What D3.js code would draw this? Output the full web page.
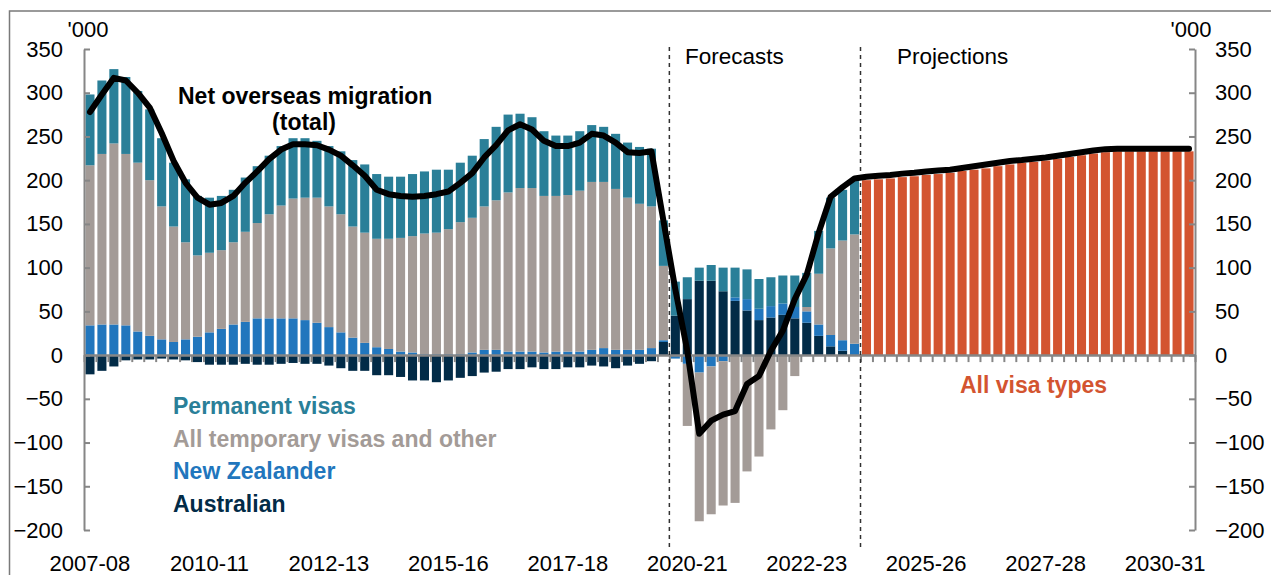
<!DOCTYPE html>
<html>
<head>
<meta charset="utf-8">
<script src="https://cdn.jsdelivr.net/npm/d3@7"></script>
<style>
  body { margin: 0; background: #fff; }
  svg text { font-family: "Liberation Sans", Arial, sans-serif; }
</style>
</head>
<body>
<div id="chart"></div>
<script>
// quarterly components, Mar-2008 .. Jun-2024 ('000 persons)
var australian = [-22,-18,-13,-6,-5,-5,-4,-5,-6,-8, -11,-11,-11,-10,-11,-11,-10,-9,-10,-10,
  -12,-15,-18,-18,-23,-23,-25,-29,-29,-31, -29,-26,-24,-20,-19,-16,-16,-14,-16,-16,
  -14,-14,-12,-13,-15,-12,-10,-7,15,45, 64,85,85,73,62,51,40,43,46,42, 37,22,10,5,0];
var newZealander = [34,35,35,34,27,22,18,15,18,21, 26,30,35,38,42,42,42,42,40,37,
  32,26,20,14,9,7,4,3,1,1, 1,1,3,6,6,4,4,4,3,4,
  4,4,6,8,6,6,6,8,2,-4, -10,-20,-13,-7,4,13,13,13,13,13, 13,13,13,12,13];
var temporary = [183,195,207,196,193,178,152,132,111,93, 91,90,94,103,109,119,129,137,140,143,
  138,135,127,126,124,126,130,133,138,139, 143,151,154,164,171,182,187,187,179,178,
  179,184,192,190,184,174,167,162,85,0, -71,-170,-169,-165,-169,-133,-116,-85,-63,-24, 5,58,99,114,125];
var permanent = [81,84,85,88,82,81,78,73,72,68, 63,62,60,62,65,67,68,69,68,65,
  69,72,76,78,74,71,70,71,71,72, 68,68,71,77,84,89,85,81,74,69,
  68,68,65,63,63,63,65,66,52,39, 25,15,18,27,34,34,34,33,32,36, 39,49,58,58,61];
// projections, Sep-2024 .. Mar-2031
var allVisaTypes = [200,201,202,203.5,204.5,206,207,208.5,210.5,212, 213.5,216,218,220,221,222.5,224.5,226.5,228.5,230.5,
  232,233,233,233,233,233,233,233];
// net overseas migration (total), all quarters
var netTotal = [278,298,317,314,300,283,254,222,197,180, 172,174,182,197,210,224,235,241,241,240,
  235,228,217,205,189,184,182,181,182,184, 187,197,208,226,240,257,264,258,245,239,
  239,243,253,251,243,232,231,233,154,75, 5,-90,-75,-68,-64,-33,-24,5,28,64,
  92,140,181,192,202, 204,205,206,207.5,208.5,210,211,212,214,216, 218,220,222,223,224.5,226,228,230,232,234,
  235.5,236,236,236,236,236,236,236];

var tickLabels = ["2007-08","2010-11","2012-13","2015-16","2017-18","2020-21","2022-23","2025-26","2027-28","2030-31"];
var yTicks = [-200,-150,-100,-50,0,50,100,150,200,250,300,350];

var months = ["Mar","Jun","Sep","Dec"];
var quarters = [];
for (var i = 0; i < australian.length + allVisaTypes.length; i++) {
  quarters.push(months[i % 4] + "-" + (2008 + Math.floor(i / 4)));
}
var histQ = quarters.slice(0, australian.length);
var projQ = quarters.slice(australian.length);

var series = [
  {key: "australian", name: "Australian", color: "#022b47"},
  {key: "newZealander", name: "New Zealander", color: "#2176bd"},
  {key: "temporary", name: "All temporary visas and other", color: "#a39b97"},
  {key: "permanent", name: "Permanent visas", color: "#2a7f98"}
];
var orange = "#d35430";

var svgWidth = 1271, svgHeight = 575;
var left = 84, right = 1195, top0 = 49, bottom0 = 530;

var svg = d3.select("#chart").append("svg")
  .attr("width", svgWidth)
  .attr("height", svgHeight);

// frame
svg.append("rect")
  .attr("x", 9.5).attr("y", 11)
  .attr("width", 1300).attr("height", 600)
  .attr("fill", "none")
  .attr("stroke", "#7a7a7a")
  .attr("stroke-width", 1.5);

var x = d3.scaleBand()
  .domain(quarters)
  .range([left, right])
  .paddingInner(0.24)
  .paddingOuter(0.12);

var y = d3.scaleLinear()
  .domain([-200, 350])
  .range([bottom0, top0]);

// stacked bars
var rows = histQ.map(function(q, i) {
  return {q: q, australian: australian[i], newZealander: newZealander[i],
    temporary: temporary[i], permanent: permanent[i]};
});
var stack = d3.stack()
  .keys(series.map(function(s) { return s.key; }))
  .offset(d3.stackOffsetDiverging);
var stacked = stack(rows);

svg.append("g").selectAll("g")
  .data(stacked)
  .enter()
  .append("g")
  .attr("fill", function(d, i) { return series[i].color; })
  .selectAll("rect")
  .data(function(d) { return d; })
  .enter()
  .append("rect")
  .attr("x", function(d) { return x(d.data.q); })
  .attr("width", x.bandwidth())
  .attr("y", function(d) { return y(Math.max(d[0], d[1])); })
  .attr("height", function(d) { return Math.abs(y(d[0]) - y(d[1])); });

// projection bars
svg.append("g").selectAll("rect")
  .data(allVisaTypes)
  .enter()
  .append("rect")
  .attr("fill", orange)
  .attr("x", function(d, i) { return x(projQ[i]); })
  .attr("width", x.bandwidth())
  .attr("y", function(d) { return y(d); })
  .attr("height", function(d) { return y(0) - y(d); });

// y axes
var axisColor = "#868686";
var leftAxis = d3.axisLeft(y).tickValues(yTicks).tickSizeInner(-6).tickSizeOuter(0).tickPadding(21);
var rightAxis = d3.axisRight(y).tickValues(yTicks).tickSizeInner(-6).tickSizeOuter(0).tickPadding(20);

var gl = svg.append("g").attr("transform", "translate(" + left + ",0)").call(leftAxis);
var gr = svg.append("g").attr("transform", "translate(" + right + ",0)").call(rightAxis);
[gl, gr].forEach(function(g) {
  g.select(".domain").attr("stroke", axisColor).attr("stroke-width", 2);
  g.selectAll(".tick line").attr("stroke", axisColor).attr("stroke-width", 2);
  g.selectAll(".tick text").attr("fill", "#000").style("font-size", "22px");
});

// zero line with category ticks
var xb = d3.scaleLinear().domain([0, quarters.length]).range([left, right]);
var zeroAxis = d3.axisBottom(xb).tickValues(d3.range(0, quarters.length + 1)).tickFormat("").tickSizeInner(7).tickSizeOuter(0);
var gz = svg.append("g").attr("transform", "translate(0," + y(0) + ")").call(zeroAxis);
gz.select(".domain").attr("stroke", axisColor).attr("stroke-width", 2.5);
gz.selectAll(".tick line").attr("stroke", axisColor).attr("stroke-width", 2);

// category labels
var labelQ = tickLabels.map(function(t, i) { return quarters[i * 10]; });
var labelAxis = d3.axisBottom(x).tickValues(labelQ)
  .tickFormat(function(d, i) { return tickLabels[i]; })
  .tickSize(0).tickPadding(3);
var gx = svg.append("g").attr("transform", "translate(0,552)").call(labelAxis);
gx.select(".domain").remove();
gx.selectAll(".tick text").attr("fill", "#000").style("font-size", "22px");

// '000 labels
svg.append("text").attr("x", 88).attr("y", 37).attr("text-anchor", "middle")
  .style("font-size", "22px").text("'000");
svg.append("text").attr("x", 1191).attr("y", 37).attr("text-anchor", "middle")
  .style("font-size", "22px").text("'000");

// forecast / projection dividers
var dividers = [{q: histQ[49], text: "Forecasts", tx: 685}, {q: projQ[0], text: "Projections", tx: 897}];
dividers.forEach(function(d) {
  var xx = x(d.q) - x.step() * x.paddingInner() / 2;
  svg.append("line")
    .attr("x1", xx).attr("x2", xx)
    .attr("y1", 47).attr("y2", 550)
    .attr("stroke", "#333")
    .attr("stroke-width", 1.5)
    .attr("stroke-dasharray", "4,4");
  svg.append("text").attr("x", d.tx).attr("y", 64)
    .style("font-size", "22.5px").text(d.text);
});

// net overseas migration line
var line = d3.line()
  .x(function(d, i) { return x(quarters[i]) + x.bandwidth() / 2; })
  .y(function(d) { return y(d); });

svg.append("path")
  .datum(netTotal)
  .attr("d", line)
  .attr("fill", "none")
  .attr("stroke", "#000")
  .attr("stroke-width", 6)
  .attr("stroke-linejoin", "round")
  .attr("stroke-linecap", "round");

// annotations
svg.append("text").attr("x", 178).attr("y", 104)
  .style("font-size", "23px").style("font-weight", "bold").text("Net overseas migration");
svg.append("text").attr("x", 304).attr("y", 130).attr("text-anchor", "middle")
  .style("font-size", "23px").style("font-weight", "bold").text("(total)");
svg.append("text").attr("x", 960).attr("y", 393)
  .style("font-size", "23px").style("font-weight", "bold").attr("fill", orange).text("All visa types");

// legend
var legendOrder = series.slice().reverse();
svg.append("g").selectAll("text")
  .data(legendOrder)
  .enter()
  .append("text")
  .attr("x", 173)
  .attr("y", function(d, i) { return 414 + i * 32.5; })
  .attr("fill", function(d) { return d.color; })
  .style("font-size", "23px")
  .style("font-weight", "bold")
  .text(function(d) { return d.name; });
</script>
</body>
</html>
